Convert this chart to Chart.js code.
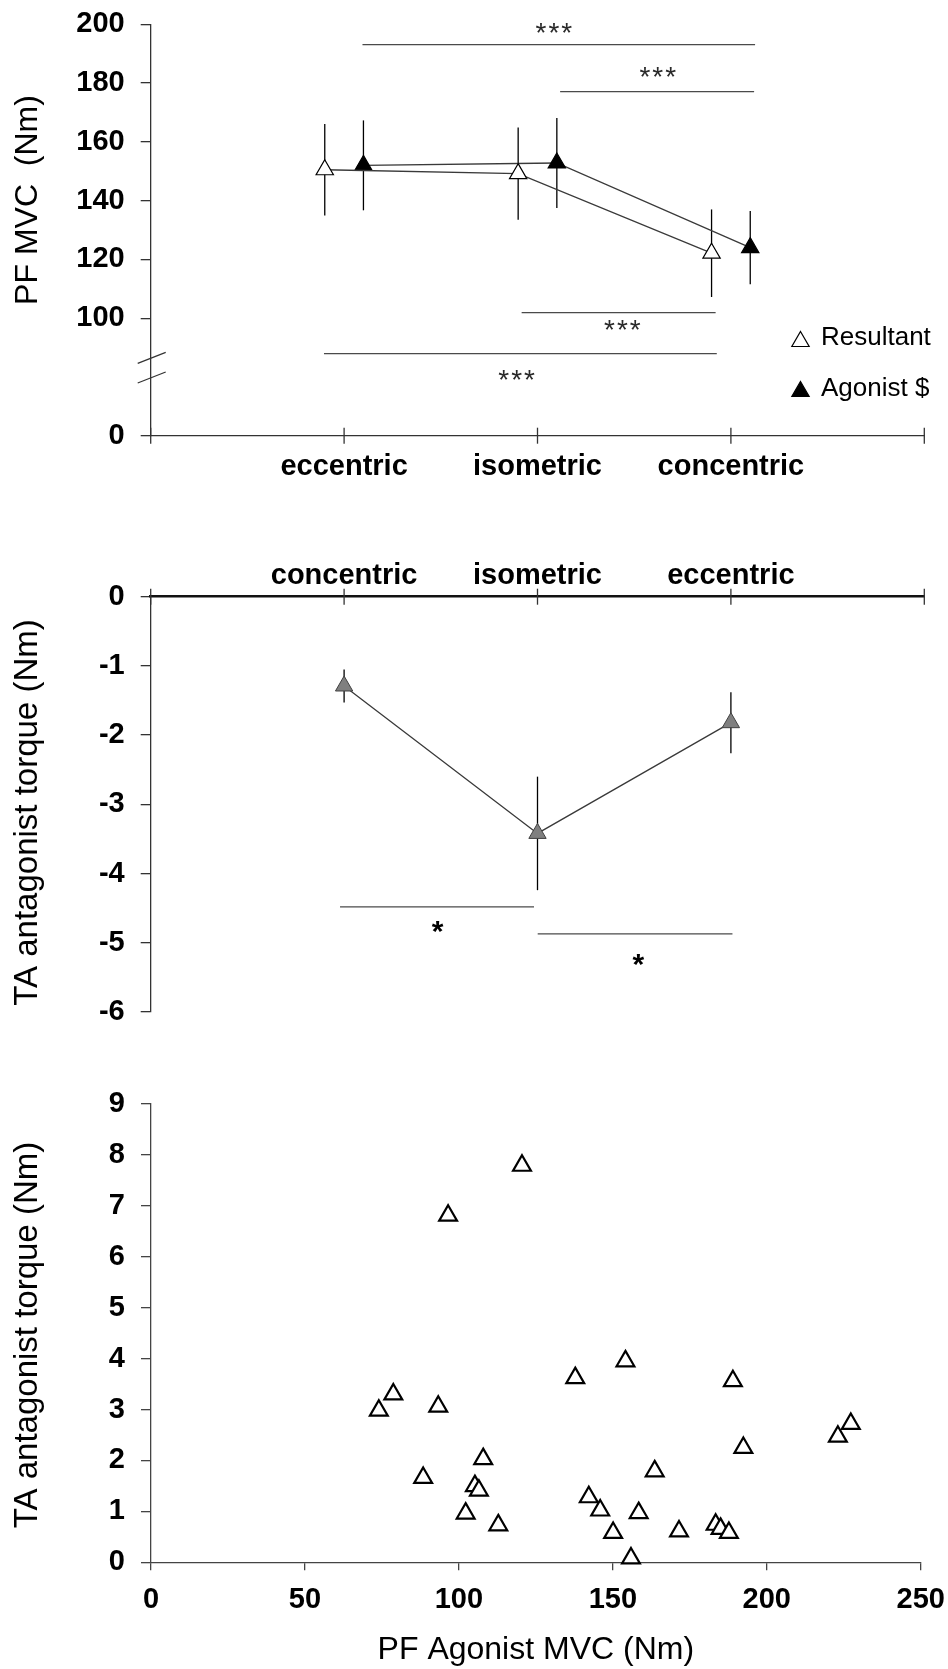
<!DOCTYPE html>
<html>
<head>
<meta charset="utf-8">
<script src="https://cdn.jsdelivr.net/npm/chart.js@4.4.1/dist/chart.umd.min.js"></script>
<style>
  html, body { margin: 0; padding: 0; background: #fff; }
  body { width: 948px; height: 1669px; position: relative; overflow: hidden; }
  canvas { position: absolute; left: 0; }
  #c1 { top: -12px; }
  #c2 { top: 520px; }
  #c3 { top: 1066px; }
</style>
</head>
<body>
<canvas id="c1" width="948" height="512"></canvas>
<canvas id="c2" width="948" height="540"></canvas>
<canvas id="c3" width="960" height="603"></canvas>
<script>
// ---------------- DATA ----------------
// Panel A: PF MVC per contraction type (mean, SD)
const phaseLabelsA = ['eccentric', 'isometric', 'concentric'];
const resultantMVC = [150.5, 149.2, 122.1];
const resultantSD  = [15.6, 15.7, 14.9];
const agonistMVC   = [152.0, 152.8, 124.0];
const agonistSD    = [15.3, 15.3, 12.5];
const yTicksA      = [0, 100, 120, 140, 160, 180, 200];
// significance bars panel A: [fromX, toX, y, text]
const sigA = [
  [1.095, 3.125, 193.1, '***'],
  [2.117, 3.120, 177.1, '***'],
  [1.918, 2.921, 101.9, '***'],
  [0.896, 2.927, 87.9, '***']
];
const sigTextPosA = [[2.09, 198.2], [2.627, 183.3], [2.444, 97.2], [1.897, 80.1]];

// Panel B: TA antagonist torque per contraction type
const phaseLabelsB = ['concentric', 'isometric', 'eccentric'];
const antagonistTorque = [-1.29, -3.42, -1.82];
const antagonistSD     = [0.24, 0.82, 0.44];
const sigB = [
  [0.979, 1.982, -4.48, '*'],
  [2.001, 3.008, -4.87, '*']
];
const sigTextPosB = [[1.484, -4.79], [2.521, -5.26]];

// Panel C: scatter PF agonist MVC vs TA antagonist torque
const agonistMVCscatter = [74.0, 78.7, 88.4, 93.3, 96.5, 102.2, 105.2, 106.5, 107.9, 112.8,
  120.5, 137.8, 142.2, 145.9, 150.1, 154.1, 155.9, 158.4, 163.6, 171.5,
  183.4, 185.0, 187.7, 189.0, 192.4, 223.1, 227.3];
const antagonistScatter = [2.98, 3.30, 1.66, 3.06, 6.81, 0.96, 1.50, 1.41, 2.03, 0.73,
  7.79, 3.62, 1.28, 1.02, 0.58, 3.95, 0.08, 0.97, 1.79, 0.61,
  0.74, 0.66, 0.58, 3.56, 2.25, 2.47, 2.72];

// ---------------- STYLE / HELPERS ----------------
const FONT = "'Liberation Sans', Arial, Helvetica, sans-serif";
Chart.defaults.font.family = FONT;
Chart.defaults.color = '#000';
Chart.defaults.animation = false;

const BREAK_POS = 60; // position on the linear scale where the broken-axis "0" sits

function tri(ctx, x, y, r, fill, stroke, lw) {
  ctx.beginPath();
  let a = 0;
  ctx.moveTo(x + Math.sin(a) * r, y - Math.cos(a) * r);
  a += 2 * Math.PI / 3;
  ctx.lineTo(x + Math.sin(a) * r, y - Math.cos(a) * r);
  a += 2 * Math.PI / 3;
  ctx.lineTo(x + Math.sin(a) * r, y - Math.cos(a) * r);
  ctx.closePath();
  ctx.fillStyle = fill; ctx.fill();
  ctx.lineWidth = lw; ctx.strokeStyle = stroke; ctx.stroke();
}

const errorBars = {
  id: 'errorBars',
  beforeDatasetsDraw(chart) {
    const ctx = chart.ctx;
    chart.data.datasets.forEach((ds, i) => {
      if (!ds.errors) return;
      const meta = chart.getDatasetMeta(i);
      const ys = chart.scales[meta.yAxisID];
      ctx.save();
      ctx.strokeStyle = '#000';
      ctx.lineWidth = 1.3;
      meta.data.forEach((pt, j) => {
        const v = ds.data[j].y, e = ds.errors[j];
        ctx.beginPath();
        ctx.moveTo(pt.x, ys.getPixelForValue(v + e));
        ctx.lineTo(pt.x, ys.getPixelForValue(v - e));
        ctx.stroke();
      });
      ctx.restore();
    });
  }
};

const crossTicks = {
  id: 'crossTicks',
  afterDraw(chart, args, o) {
    if (!o || !o.enabled) return;
    const xs = chart.scales.x, ctx = chart.ctx;
    const y0 = o.atTop ? chart.chartArea.top : chart.chartArea.bottom;
    ctx.save();
    ctx.strokeStyle = o.color; ctx.lineWidth = o.width;
    xs.ticks.forEach(t => {
      const px = xs.getPixelForValue(t.value);
      ctx.beginPath(); ctx.moveTo(px, y0 - o.len); ctx.lineTo(px, y0 + o.len); ctx.stroke();
    });
    ctx.restore();
  }
};

const sigPlugin = {
  id: 'sig',
  afterDatasetsDraw(chart, args, o) {
    if (!o || !o.bars) return;
    const xs = chart.scales.x, ys = chart.scales.y, ctx = chart.ctx;
    ctx.save();
    o.bars.forEach((b, i) => {
      const py = ys.getPixelForValue(b[2]);
      ctx.strokeStyle = o.lineColor; ctx.lineWidth = o.lineWidth;
      ctx.beginPath();
      ctx.moveTo(xs.getPixelForValue(b[0]), py);
      ctx.lineTo(xs.getPixelForValue(b[1]), py);
      ctx.stroke();
      const tp = o.textPos[i];
      ctx.fillStyle = o.textColor; ctx.font = o.font;
      ctx.textAlign = 'center'; ctx.textBaseline = 'alphabetic';
      if ('letterSpacing' in ctx) ctx.letterSpacing = o.spacing || '0px';
      ctx.fillText(b[3], xs.getPixelForValue(tp[0]), ys.getPixelForValue(tp[1]) + o.starDrop);
    });
    ctx.restore();
  }
};

const yTitle = {
  id: 'yTitle',
  afterDraw(chart, args, o) {
    if (!o || !o.text) return;
    const ctx = chart.ctx;
    ctx.save();
    ctx.translate(o.x, o.y);
    ctx.rotate(-Math.PI / 2);
    ctx.font = o.font; ctx.fillStyle = '#000';
    ctx.textAlign = 'center'; ctx.textBaseline = 'middle';
    ctx.fillText(o.text, 0, 0);
    ctx.restore();
  }
};

const breakMarks = {
  id: 'breakMarks',
  afterDraw(chart, args, o) {
    if (!o || !o.at) return;
    const ys = chart.scales.y, ctx = chart.ctx;
    const x0 = chart.chartArea.left;
    ctx.save();
    ctx.strokeStyle = '#333'; ctx.lineWidth = 1.2;
    o.at.forEach(v => {
      const py = ys.getPixelForValue(v);
      ctx.beginPath(); ctx.moveTo(x0 - 13, py + 5.5); ctx.lineTo(x0 + 15, py - 5.5); ctx.stroke();
    });
    ctx.restore();
  }
};

const legendA = {
  id: 'legendA',
  afterDraw(chart, args, o) {
    if (!o || !o.items) return;
    const ctx = chart.ctx;
    ctx.save();
    o.items.forEach(it => {
      tri(ctx, it.mx, it.my, 10, it.fill, '#000', 1.2);
      ctx.font = "26px " + FONT; ctx.fillStyle = '#000';
      ctx.textAlign = 'left'; ctx.textBaseline = 'middle';
      ctx.fillText(it.text, it.tx, it.ty);
    });
    ctx.restore();
  }
};

Chart.register(errorBars, crossTicks, sigPlugin, yTitle, breakMarks, legendA);

const tickFont = { size: 29, weight: 'bold', family: FONT };

// ---------------- CHART A ----------------
// canvas is shifted up 12px so that chart area top lands at page y=24.3
new Chart(document.getElementById('c1'), {
  type: 'scatter',
  data: {
    datasets: [
      {
        label: 'Resultant',
        data: resultantMVC.map((v, i) => ({ x: i + 1 - 0.1, y: v })),
        errors: resultantSD,
        showLine: true, borderColor: '#3a3a3a', borderWidth: 1.3,
        pointStyle: 'triangle', pointRadius: 10, pointBorderWidth: 1.2,
        pointBackgroundColor: '#fff', pointBorderColor: '#000'
      },
      {
        label: 'Agonist $',
        data: agonistMVC.map((v, i) => ({ x: i + 1 + 0.1, y: v })),
        errors: agonistSD,
        showLine: true, borderColor: '#3a3a3a', borderWidth: 1.3,
        pointStyle: 'triangle', pointRadius: 10, pointBorderWidth: 1.2,
        pointBackgroundColor: '#000', pointBorderColor: '#000'
      }
    ]
  },
  options: {
    responsive: false,
    layout: { padding: { top: 36.3, right: 23.7, left: 0, bottom: 0 } },
    plugins: {
      legend: { display: false }, tooltip: { enabled: false },
      crossTicks: { enabled: true, atTop: false, len: 8, color: '#333', width: 1.3 },
      sig: { bars: sigA, textPos: sigTextPosA, lineColor: '#4a4a4a', lineWidth: 1.3,
             textColor: '#2a2a2a', font: "28px " + FONT, starDrop: 12.5, spacing: '2px' },
      yTitle: { text: 'PF MVC  (Nm)', x: 28, y: 212, font: "32px " + FONT },
      breakMarks: { at: [86.5, 79.8] },
      legendA: { items: [
        { mx: 800.5, my: 353.5, fill: '#fff', text: 'Resultant', tx: 821, ty: 350 },
        { mx: 800.5, my: 403.5, fill: '#000', text: 'Agonist $', tx: 821, ty: 401 }
      ] }
    },
    scales: {
      x: {
        type: 'linear', min: 0, max: 4, position: 'bottom',
        afterFit: s => { s.height = 64.3; },
        afterBuildTicks: s => { s.ticks = [0, 1, 2, 3, 4].map(v => ({ value: v })); },
        grid: { display: false, drawTicks: true, tickLength: 8 },
        border: { display: true, color: '#333', width: 1.3 },
        ticks: { font: tickFont, padding: 6, maxRotation: 0, autoSkip: false,
                 callback: v => phaseLabelsA[v - 1] || '' }
      },
      y: {
        type: 'linear', min: BREAK_POS, max: 200,
        afterFit: s => { s.width = 150.7; },
        afterBuildTicks: s => { s.ticks = yTicksA.map(v => ({ value: v === 0 ? BREAK_POS : v })); },
        grid: { drawOnChartArea: false, drawTicks: true, tickLength: 10, color: '#333', lineWidth: 1.3 },
        border: { display: true, color: '#333', width: 1.3 },
        ticks: { font: tickFont, padding: 16, autoSkip: false,
                 callback: v => (v === BREAK_POS ? '0' : String(v)) }
      }
    }
  }
});

// ---------------- CHART B ----------------
new Chart(document.getElementById('c2'), {
  type: 'scatter',
  data: {
    datasets: [{
      label: 'TA antagonist',
      data: antagonistTorque.map((v, i) => ({ x: i + 1, y: v })),
      errors: antagonistSD,
      showLine: true, borderColor: '#3a3a3a', borderWidth: 1.3,
      pointStyle: 'triangle', pointRadius: 10, pointBorderWidth: 1,
      pointBackgroundColor: '#7f7f7f', pointBorderColor: '#404040'
    }]
  },
  options: {
    responsive: false,
    layout: { padding: { top: 0, right: 23.7, left: 0, bottom: 48 } },
    plugins: {
      legend: { display: false }, tooltip: { enabled: false },
      crossTicks: { enabled: true, atTop: true, len: 8, color: '#333', width: 1.3 },
      sig: { bars: sigB, textPos: sigTextPosB, lineColor: '#4a4a4a', lineWidth: 1.3,
             textColor: '#000', font: "bold 30px " + FONT, starDrop: 13 },
      yTitle: { text: 'TA antagonist torque (Nm)', x: 28, y: 812.5 - 520, font: "33px " + FONT }
    },
    scales: {
      x: {
        type: 'linear', min: 0, max: 4, position: 'top',
        afterFit: s => { s.height = 76.7; },
        afterBuildTicks: s => { s.ticks = [0, 1, 2, 3, 4].map(v => ({ value: v })); },
        grid: { display: false, drawTicks: true, tickLength: 3 },
        border: { display: true, color: '#111', width: 2.5 },
        ticks: { font: tickFont, padding: 0, maxRotation: 0, autoSkip: false,
                 callback: v => phaseLabelsB[v - 1] || '' }
      },
      y: {
        type: 'linear', min: -6, max: 0,
        afterFit: s => { s.width = 150.7; },
        ticks: { font: tickFont, padding: 16, stepSize: 1, autoSkip: false },
        grid: { drawOnChartArea: false, drawTicks: true, tickLength: 10, color: '#333', lineWidth: 1.3 },
        border: { display: true, color: '#333', width: 1.3 }
      }
    }
  }
});

// ---------------- CHART C ----------------
// canvas is 960 wide (page clips at 948) so the x axis can end at page x=920.7
new Chart(document.getElementById('c3'), {
  type: 'scatter',
  data: {
    datasets: [{
      label: 'subjects',
      data: agonistMVCscatter.map((x, i) => ({ x: x, y: antagonistScatter[i] })),
      pointStyle: 'triangle', pointRadius: 10.3, pointBorderWidth: 2.2,
      pointBackgroundColor: '#fff', pointBorderColor: '#000'
    }]
  },
  options: {
    responsive: false,
    clip: false,
    layout: { padding: { top: 38, right: 39.3, left: 0, bottom: 0 } },
    plugins: {
      legend: { display: false }, tooltip: { enabled: false },
      yTitle: { text: 'TA antagonist torque (Nm)', x: 28, y: 1335 - 1066, font: "33px " + FONT }
    },
    scales: {
      x: {
        type: 'linear', min: 0, max: 250,
        afterFit: s => { s.height = 106.7; },
        ticks: { font: tickFont, padding: 12.5, stepSize: 50, maxRotation: 0, autoSkip: false },
        grid: { drawOnChartArea: false, drawTicks: true, tickLength: 8, color: '#444', lineWidth: 1.3 },
        border: { display: true, color: '#444', width: 1.3 },
        title: { display: true, text: 'PF Agonist MVC (Nm)', font: { size: 32, family: FONT },
                 color: '#000', padding: { top: 0, bottom: 0 } }
      },
      y: {
        type: 'linear', min: 0, max: 9,
        afterFit: s => { s.width = 151; },
        ticks: { font: tickFont, padding: 16, stepSize: 1, autoSkip: false },
        grid: { drawOnChartArea: false, drawTicks: true, tickLength: 10, color: '#444', lineWidth: 1.3 },
        border: { display: true, color: '#444', width: 1.3 }
      }
    }
  }
});
</script>
</body>
</html>
